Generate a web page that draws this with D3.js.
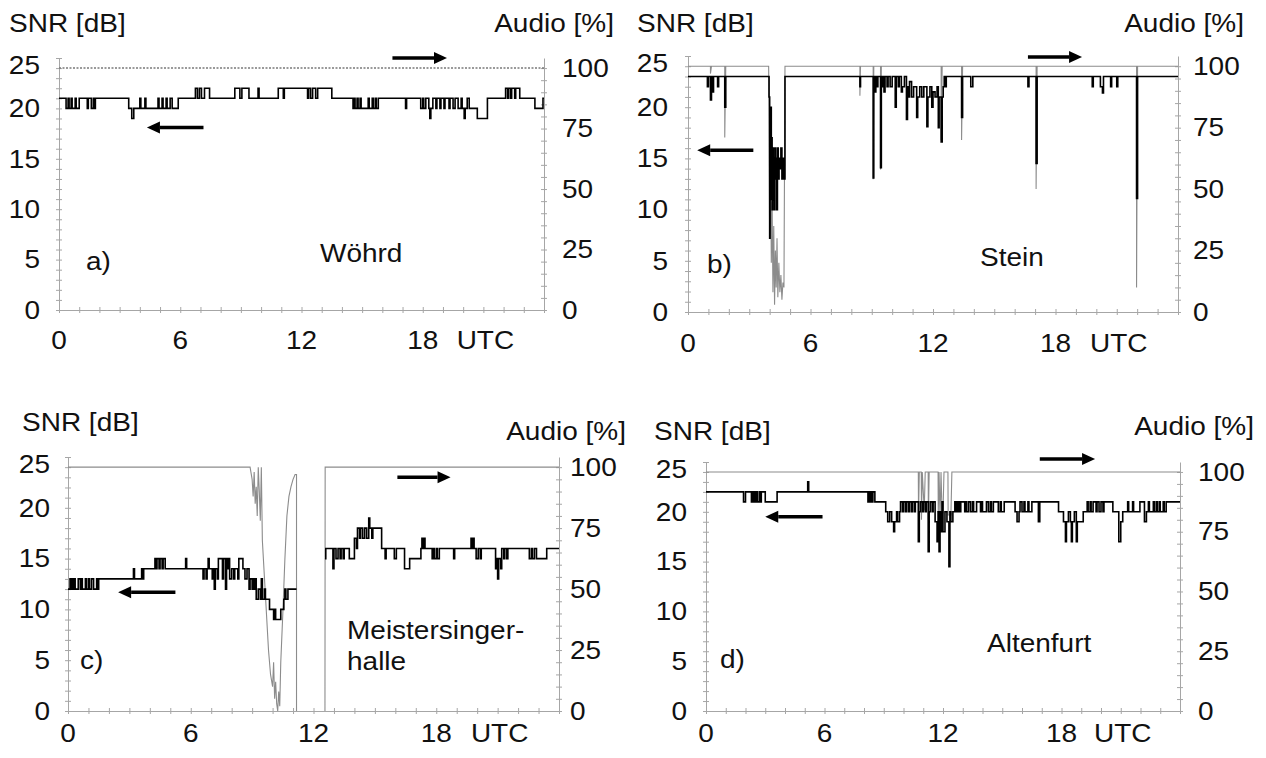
<!DOCTYPE html>
<html>
<head>
<meta charset="utf-8">
<script src="https://cdn.jsdelivr.net/npm/d3@7"></script>
<style>
  body { margin: 0; background: #fff; }
  svg text { font-family: "Liberation Sans", Arial, sans-serif; font-size: 25px; fill: #111; }
</style>
</head>
<body>
<svg id="chart" width="1266" height="758"></svg>
<script>
// DATA: [hour UTC, value] pairs
const hourTicks = [0, 6, 12, 18];
const snrTicks = [0, 5, 10, 15, 20, 25];
const audioTicks = [0, 25, 50, 75, 100];

// a) Wöhrd
const snrA = [
  [0,21],[0.35,20],[0.45,21],[0.5,20],[0.6,21],[0.65,20],[0.8,21],[0.85,20],[1.0,21],
  [1.4,20],[1.45,21],[1.6,20],[1.7,21],[1.75,20],[1.8,21],
  [3.45,20],[3.6,19],[3.7,20],[4.0,21],[4.05,20],[4.25,21],[4.3,20],
  [4.9,21],[4.95,20],[5.1,21],[5.15,20],[5.3,21],[5.35,20],[5.5,21],[5.6,20],[5.9,21],
  [6.75,22],[6.85,21],[6.95,22],[7.05,21],[7.2,22],[7.45,21],
  [8.7,22],[8.95,21],[9.05,22],[9.4,21],[9.85,22],[9.9,21],[10.85,22],
  [11.1,21],[11.15,22],
  [12.3,21],[12.35,22],[12.45,21],[12.55,22],[12.7,21],[12.8,22],
  [13.5,21],[14.55,20],[14.6,21],[14.65,20],[14.75,21],[14.8,20],[14.9,21],[14.95,20],
  [15.3,21],[15.35,20],[15.5,21],[15.55,20],[15.65,21],[15.7,20],[15.8,21],
  [17.15,20],[17.2,21],
  [17.9,20],[18.0,21],[18.05,20],[18.15,21],[18.3,20],[18.35,19],[18.4,20],[18.5,21],
  [18.65,20],[18.7,21],[18.85,20],[18.9,21],[19.05,20],[19.1,21],[19.3,20],[19.35,21],
  [19.5,20],[19.6,21],[19.75,20],[19.9,21],[19.95,20],[20.05,19],[20.1,20],[20.2,21],
  [20.3,20],[20.7,19],[21.2,21],
  [22.1,22],[22.2,21],[22.25,22],[22.35,21],[22.4,22],[22.55,21],[22.6,22],[22.8,21],
  [23.55,20],[23.95,21],[24,21]
];
const audioA = [[0,100],[24,100]];

// b) Stein
const snrB = [
  [0,23],[0.95,22],[1.0,23],[1.1,20.7],[1.15,23],[1.2,21.5],[1.25,23],[1.45,22],[1.5,23],
  [1.8,20],[1.85,23],
  [3.97,21],[4.0,7.2],[4.02,19],[4.04,11],[4.06,20],[4.08,12],[4.1,17],[4.12,10],[4.15,16],
  [4.18,11],[4.2,15],[4.23,10],[4.26,16],[4.29,13],[4.32,15],[4.35,10],[4.38,16],[4.42,13],
  [4.46,15],[4.5,14],[4.55,16],[4.6,13],[4.65,15],[4.7,13],[4.75,23],
  [8.42,22],[8.45,23],[9.07,13.1],[9.1,23],[9.15,21.5],[9.2,23],[9.25,22],[9.3,23],
  [9.43,14.1],[9.47,23],[9.5,22],[9.55,23],[9.6,21.5],[9.65,23],[9.75,22],[9.8,23],
  [9.9,22],[10.0,23],[10.15,20],[10.2,23],[10.3,22],[10.35,23],[10.45,21.5],[10.5,22],
  [10.6,23],[10.7,18.8],[10.75,22],[10.8,21],[10.85,22.5],[10.95,21],[11.05,22],
  [11.2,19],[11.25,21],[11.35,22],[11.45,21],[11.55,22],[11.7,18.1],[11.75,21],[11.85,22],
  [11.94,20],[12.0,21.5],[12.1,21],[12.2,22],[12.26,18],[12.3,21],[12.4,16.6],[12.45,21],
  [12.5,22],[12.55,23],[12.6,22],[12.65,23],[13.4,19],[13.45,23],[13.85,22],[13.95,23],
  [16.65,22],[16.7,23],[17.05,14.5],[17.1,23],[19.8,22],[19.85,23],[20.2,22],[20.3,21.4],
  [20.35,23],[20.7,22],[20.75,23],[21.0,22],[21.05,23],[21.97,11.1],[22.02,23],[24,23]
];
const audioB = [
  [0,100],[1.1,100],[1.1,97],[1.15,100],[1.8,100],[1.8,71],[1.85,100],[3.95,100],[4.0,30],[4.05,60],
  [4.08,20],[4.12,45],[4.16,8],[4.2,35],[4.24,3],[4.28,25],[4.32,10],[4.36,30],[4.4,6],
  [4.45,20],[4.5,8],[4.55,15],[4.6,5],[4.65,12],[4.7,10],[4.75,100],
  [8.42,100],[8.42,88],[8.45,100],[9.07,100],[9.07,54],[9.1,100],[9.43,100],[9.43,58],[9.47,100],
  [12.4,100],[12.4,70],[12.45,100],[13.4,100],[13.4,70],[13.45,100],
  [17.05,100],[17.05,50],[17.1,100],[21.97,100],[21.97,10],[22.02,100],[24,100]
];

// c) Meistersingerhalle (no data 11.2 - 12.6 UTC)
const snrC = [
  [0,12],[0.1,13],[0.15,12],[0.2,13],[0.25,12],[0.3,13],[0.35,12],[0.5,13],[0.6,12],[0.67,13],
  [0.7,12],[0.85,13],[0.9,12],[1.0,13],[1.05,12],[1.15,13],[1.25,12],[1.4,13],[1.45,12],[1.5,13],
  [3.2,14],[3.25,13],[3.6,14],[3.65,13],[3.7,14],
  [4.25,15],[4.3,14],[4.35,15],[4.45,14],[4.5,15],[4.6,14],[4.65,15],[4.75,14],
  [5.75,15],[5.8,14],[6.6,13],[6.65,14],[6.75,13],[6.8,14],[6.85,15],[6.9,14],
  [7.05,13],[7.1,14],[7.15,12],[7.2,14],[7.3,13],[7.35,15],[7.55,13],[7.6,15],[7.7,12],
  [7.75,15],[7.8,14],[7.85,15],[7.9,13],[8.0,14],[8.1,13],[8.15,14],[8.3,13],[8.35,15],
  [8.55,14],[8.65,13],[8.75,14],[8.85,12],[8.9,13],[9.0,12],[9.05,13],[9.1,12],[9.15,13],
  [9.2,11],[9.3,12],[9.4,11],[9.45,13],[9.5,11],[9.6,12],[9.65,11],[9.85,10],[10.05,9],
  [10.1,10],[10.15,9],[10.4,10],[10.55,11],[10.6,12],[10.65,11],[10.75,12],[11.17,12],[11.17,null],
  [12.56,15],[12.6,16],[12.95,14],[13.0,16],[13.1,15],[13.2,16],[13.3,15],[13.35,16],[13.45,15],
  [13.5,16],[13.75,15],[14.0,17],[14.1,16],[14.15,18],[14.25,17],[14.3,18],[14.4,17],[14.5,18],
  [14.6,17],[14.7,19],[14.75,18],[14.85,17],[14.9,18],[15.33,16],
  [15.5,15],[15.55,16],[15.95,15],[16.05,16],[16.45,14],[16.7,15],[17.25,16],[17.3,17],
  [17.35,16],[17.4,17],[17.45,16],
  [17.8,15],[17.85,16],[17.9,15],[18.0,16],[18.05,15],[18.15,16],[18.85,15],[18.9,16],
  [19.7,17],[19.75,16],[19.8,17],[19.85,16],[19.95,15],[20.05,16],[20.15,15],[20.2,16],
  [20.9,14],[20.95,15],[21.0,13],[21.05,15],[21.15,14],[21.2,16],[21.3,15],[21.35,16],
  [21.45,15],[21.5,16],
  [22.55,15],[22.65,16],[22.7,15],[22.8,16],[22.9,15],[23.4,16],[24,16]
];
const audioC = [
  [0,100],[8.9,100],[9.0,95],[9.05,88],[9.1,98],[9.15,85],[9.2,92],[9.25,80],[9.3,100],
  [9.35,90],[9.4,78],[9.45,100],[9.5,70],[9.6,55],[9.7,40],[9.8,25],[9.9,15],[10.0,10],
  [10.05,20],[10.1,5],[10.15,12],[10.2,3],[10.25,0],[10.3,8],[10.35,2],[10.4,20],[10.5,40],
  [10.6,62],[10.7,80],[10.8,88],[10.9,92],[11.0,95],[11.1,97],[11.17,97],[11.17,0],[11.17,null],
  [12.56,0],[12.57,100],[24,100]
];

// d) Altenfurt
const snrD = [
  [0,22],[1.9,21],[2.0,22],[2.3,21],[2.35,22],[2.4,21],[2.45,22],[2.5,21],[2.55,22],[2.6,21],
  [2.7,22],[2.75,21],[2.8,22],
  [3.0,21],[3.6,22],[5.15,23],[5.2,22],
  [8.2,21],[8.25,22],[8.3,21],[8.35,22],[8.4,21],[8.45,22],[8.55,21],
  [9.1,20],[9.2,19],[9.3,20],[9.4,19],[9.5,18],[9.55,19],[9.65,20],[9.7,19],[9.8,20],[9.85,21],
  [9.95,20],[10.0,21],[10.1,20],[10.15,21],[10.25,20],[10.3,21],[10.4,20],[10.45,21],[10.55,20],
  [10.6,21],[10.75,17],[10.8,20],[10.85,21],[10.95,20],[11.0,21],[11.1,20],[11.15,21],
  [11.25,16],[11.3,20],[11.35,21],[11.45,20],[11.5,21],[11.6,19],[11.7,17],[11.75,20],
  [11.8,16],[11.85,20],[11.9,18],[11.95,21],[12.0,18],[12.1,20],[12.2,19],[12.3,14.5],
  [12.35,20],[12.4,19],[12.5,20],[12.6,21],
  [12.65,20],[12.7,21],[12.75,20],[12.8,21],[12.85,20],[12.9,21],
  [13.1,20],[13.15,21],[13.2,20],[13.3,21],
  [13.4,20],[13.5,21],[13.55,20],[13.7,21],
  [13.9,20],[13.95,21],[14.0,20],[14.2,21],
  [14.3,20],[14.4,21],[14.45,20],[14.55,21],
  [14.8,20],[14.9,21],[14.95,20],[15.1,21],
  [15.65,20],[15.75,19],[15.85,20],[15.9,21],
  [16.0,20],[16.1,21],[16.15,20],[16.3,21],[16.35,20],[16.5,21],
  [16.83,19],[16.9,21],
  [17.85,20],[18.1,19],[18.2,17],[18.25,19],[18.35,20],[18.45,19],[18.5,17],[18.55,19],
  [18.65,20],[18.75,17],[18.8,19],[19.1,20],[19.3,21],[19.35,20],[19.45,21],[19.5,20],[19.6,21],
  [19.75,20],[19.8,21],[19.9,20],[20.0,21],[20.1,20],[20.15,21],
  [20.6,20],[20.9,17],[21.0,19],[21.1,20],[21.35,21],[21.4,20],[21.6,21],[21.65,20],
  [21.97,21],[22.2,19],[22.3,20],[22.4,21],[22.45,20],
  [22.65,21],[22.7,20],[22.8,21],[22.85,20],[22.95,21],[23.0,20],[23.15,21],[23.2,20],
  [23.3,21],[24,21]
];
const audioD = [
  [0,100],[10.75,100],[10.76,82],[10.8,100],[10.9,100],[10.91,80],[10.95,100],[11.05,84],
  [11.1,100],[11.25,100],[11.26,80],[11.3,100],[11.75,100],[11.76,83],[11.8,100],[11.85,80],
  [11.9,100],[11.95,83],[12.0,83],[12.05,100],[12.25,100],[12.26,82],[12.4,82],[12.45,100],
  [24,100]
];

// SETUP: panel frames (pixels) and annotation placement
const panels = [
  { tag: "a)", site: ["Wöhrd"], snr: snrA, audio: audioA, dotted: true,
    left: 59, right: 544, top: 58, bottom: 310,
    xLab: 340, yLabR: 40, aLabL: 562,
    snrTitle: [9, 32], audioTitle: [614, 32], tagPos: [86, 270], sitePos: [320, 262],
    arrowL: [7.15, 4.35, 18.1], arrowR: [16.5, 19.2, 25] },
  { tag: "b)", site: ["Stein"], snr: snrB, audio: audioB,
    left: 688, right: 1178, top: 56, bottom: 312,
    xLab: 343, yLabR: 668, aLabL: 1193,
    snrTitle: [637, 32], audioTitle: [1244, 32], tagPos: [707, 273], sitePos: [980, 266],
    arrowL: [3.2, 0.45, 15.8], arrowR: [16.65, 19.3, 24.9] },
  { tag: "c)", site: ["Meistersinger-", "halle"], snr: snrC, audio: audioC,
    left: 68, right: 559, top: 457, bottom: 711,
    xLab: 733, yLabR: 50, aLabL: 570,
    snrTitle: [22, 431], audioTitle: [626, 440], tagPos: [80, 669], sitePos: [347, 639],
    arrowL: [5.25, 2.45, 11.7], arrowR: [16.1, 18.7, 23] },
  { tag: "d)", site: ["Altenfurt"], snr: snrD, audio: audioD,
    left: 706, right: 1180, top: 462, bottom: 711,
    xLab: 733, yLabR: 687, aLabL: 1198,
    snrTitle: [654, 440], audioTitle: [1254, 435], tagPos: [720, 668], sitePos: [987, 652],
    arrowL: [5.9, 3.0, 19.5], arrowR: [16.9, 19.7, 25.3] }
];

const svg = d3.select("#chart");
svg.append("rect").attr("width", 1266).attr("height", 758).attr("fill", "#fff");

// text in the original is a little wider than Arial, so stretch it horizontally
function label(g, x, y, str, anchor, dy) {
  g.append("text")
    .attr("transform", `translate(${x},${y}) scale(1.12,1)`)
    .attr("text-anchor", anchor || "start")
    .attr("dy", dy || 0)
    .text(str);
}

function arrow(g, x1, x2, y) {
  const dir = x2 > x1 ? 1 : -1;
  const head = 13;
  g.append("line")
    .attr("x1", x1).attr("x2", x2 - dir * head)
    .attr("y1", y).attr("y2", y)
    .attr("stroke", "#000").attr("stroke-width", 3.5);
  g.append("path")
    .attr("d", `M${x2},${y} L${x2 - dir * head},${y - 6} L${x2 - dir * head},${y + 6} Z`)
    .attr("fill", "#000");
}

panels.forEach(p => {
  const g = svg.append("g");

  // 1: SCALES
  const x = d3.scaleLinear().domain([0, 24]).range([p.left, p.right]);
  const y = d3.scaleLinear().domain([0, 25]).range([p.bottom, p.top]);
  // 100 % sits at the 24 dB level, the right axis runs up to the same top
  const yAudio = d3.scaleLinear().domain([0, 100 * 25 / 24]).range([p.bottom, p.top]);

  // 2: AXES (minor ticks only, labels drawn separately)
  const axisColor = "#a6a6a6";
  const gx = g.append("g")
    .attr("transform", `translate(0,${p.bottom})`)
    .call(d3.axisBottom(x).tickValues(d3.range(0, 25, 1)).tickFormat(() => "").tickSizeOuter(0));
  gx.selectAll(".tick line").attr("y1", -3).attr("y2", 3);

  const gl = g.append("g")
    .attr("transform", `translate(${p.left},0)`)
    .call(d3.axisLeft(y).tickValues(d3.range(0, 26, 1)).tickFormat(() => "").tickSizeOuter(0));
  gl.selectAll(".tick line").attr("x1", -3).attr("x2", 3);

  const gr = g.append("g")
    .attr("transform", `translate(${p.right},0)`)
    .call(d3.axisRight(yAudio).tickValues(d3.range(0, 105, 5)).tickFormat(() => "").tickSizeOuter(0));
  gr.selectAll(".tick line").attr("x1", -3).attr("x2", 3);

  [gx, gl, gr].forEach(a => {
    a.select(".domain").attr("stroke", axisColor);
    a.selectAll(".tick line").attr("stroke", axisColor);
  });

  // 3: LINES
  const audioLine = d3.line()
    .defined(d => d[1] != null)
    .x(d => x(d[0]))
    .y(d => yAudio(d[1]));

  const snrLine = d3.line()
    .defined(d => d[1] != null)
    .curve(d3.curveStepAfter)
    .x(d => x(d[0]))
    .y(d => y(d[1]));

  g.append("path")
    .datum(p.audio)
    .attr("d", audioLine)
    .attr("fill", "none")
    .attr("stroke", p.dotted ? "#7a7a7a" : "#8c8c8c")
    .attr("stroke-width", p.dotted ? 1.5 : 1.1)
    .attr("stroke-dasharray", p.dotted ? "2,1.5" : null);

  g.append("path")
    .datum(p.snr)
    .attr("d", snrLine)
    .attr("fill", "none")
    .attr("stroke", "#000")
    .attr("stroke-width", 1.6);

  // 4: TICK LABELS
  snrTicks.forEach(v => label(g, p.yLabR, y(v) + (v === 25 ? 7 : 0), v, "end", "0.35em"));
  audioTicks.forEach(v => label(g, p.aLabL, yAudio(v), v, "start", "0.35em"));
  hourTicks.forEach(v => label(g, x(v), p.xLab, v, "middle", "0.35em"));
  label(g, x(21.1), p.xLab, "UTC", "middle", "0.35em");

  // 5: TITLES AND ANNOTATIONS
  label(g, p.snrTitle[0], p.snrTitle[1], "SNR [dB]", "start");
  label(g, p.audioTitle[0], p.audioTitle[1], "Audio [%]", "end");
  label(g, p.tagPos[0], p.tagPos[1], p.tag, "start");
  p.site.forEach((s, i) => label(g, p.sitePos[0], p.sitePos[1] + i * 31, s, "start"));

  arrow(g, x(p.arrowL[0]), x(p.arrowL[1]), y(p.arrowL[2]));
  arrow(g, x(p.arrowR[0]), x(p.arrowR[1]), y(p.arrowR[2]));
});
</script>
</body>
</html>
